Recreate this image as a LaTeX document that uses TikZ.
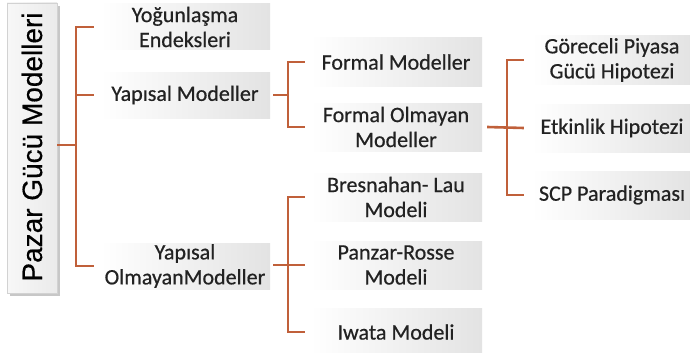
\documentclass[tikz,border=0pt]{standalone}
\usepackage{fontspec}
\setmainfont{Carlito}[FakeBold=0.6]
\newfontfamily\rootfont{Liberation Sans}[FakeBold=0.4]
\usetikzlibrary{shadows}
\definecolor{rust}{RGB}{192,96,58}
\definecolor{txt}{RGB}{34,34,34}
\tikzset{
  box/.style={left color=white, right color=gray!22, draw=none, text=txt,
    align=center, inner sep=0pt, font=\fontsize{22}{25}\selectfont},
  b1/.style={box, minimum width=170pt, minimum height=46pt},
  b2/.style={box, minimum width=172pt, minimum height=48pt},
  b3/.style={box, minimum width=160pt, minimum height=48pt},
  conn/.style={draw=rust, line width=2.6pt},
}
\begin{document}
\begin{tikzpicture}[x=1pt,y=-1pt]
\useasboundingbox (0,0) rectangle (690,353);
% root
\node[left color=gray!6, right color=gray!16, draw=gray!35, line width=0.8pt,
  minimum width=50pt, minimum height=290pt, inner sep=0pt,
  drop shadow={shadow xshift=3pt, shadow yshift=-3pt, fill=gray!55, opacity=0.8}]
  (root) at (32,148) {};
\node[rotate=90, font=\rootfont\fontsize{28}{30}\selectfont, text=black] (roottxt) at (32,147) {Pazar Gücü Modelleri};
% level 1
\node[b1] (n1) at (185,27) {Yoğunlaşma\\Endeksleri};
\node[b1] (n2) at (185,95) {Yapısal Modeller};
\node[b1] (n3) at (185,266) {Yapısal\\OlmayanModeller};
% level 2
\node[b2] (m1) at (396,62) {Formal Modeller};
\node[b2] (m2) at (396,127) {Formal Olmayan\\Modeller};
\node[b2] (m3) at (396,197) {Bresnahan- Lau\\Modeli};
\node[b2] (m4) at (396,265) {Panzar-Rosse\\Modeli};
\node[b2] (m5) at (396,332) {Iwata Modeli};
% level 3
\node[b3] (k1) at (612,60) {Göreceli Piyasa\\Gücü Hipotezi};
\node[b3] (k2) at (612,128) {Etkinlik Hipotezi};
\node[b3] (k3) at (612,195) {SCP Paradigması};
% junctions
\coordinate (j1) at (76,145);
\coordinate (j2) at (288,95);
\coordinate (j3) at (288,265);
\coordinate (j4) at (507,127);
% root connectors
\draw[conn] (j1 -| root.east) -- (j1);
\draw[conn] ([xshift=-6pt]n1.west) -| (j1) |- ([xshift=-6pt]n3.west);
\draw[conn] (j1 |- n2.west) -- ([xshift=-6pt]n2.west);
% Yapisal Modeller
\draw[conn] ([xshift=3pt]n2.east) -- (j2);
\draw[conn] ([xshift=-5pt]m1.west) -| (j2) |- ([xshift=-5pt]m2.west);
% Yapisal Olmayan
\draw[conn] ([xshift=3pt]n3.east |- j3) -- ([xshift=-5pt]m4.west);
\draw[conn] ([xshift=-5pt]m3.west) -| (j3) |- ([xshift=-5pt]m5.west);
% Formal Olmayan
\draw[conn] ([xshift=5pt]m2.east) -- ([xshift=-8pt]k2.west);
\draw[conn] ([xshift=-8pt]k1.west) -| (j4) |- ([xshift=-8pt]k3.west);
\end{tikzpicture}
\end{document}
